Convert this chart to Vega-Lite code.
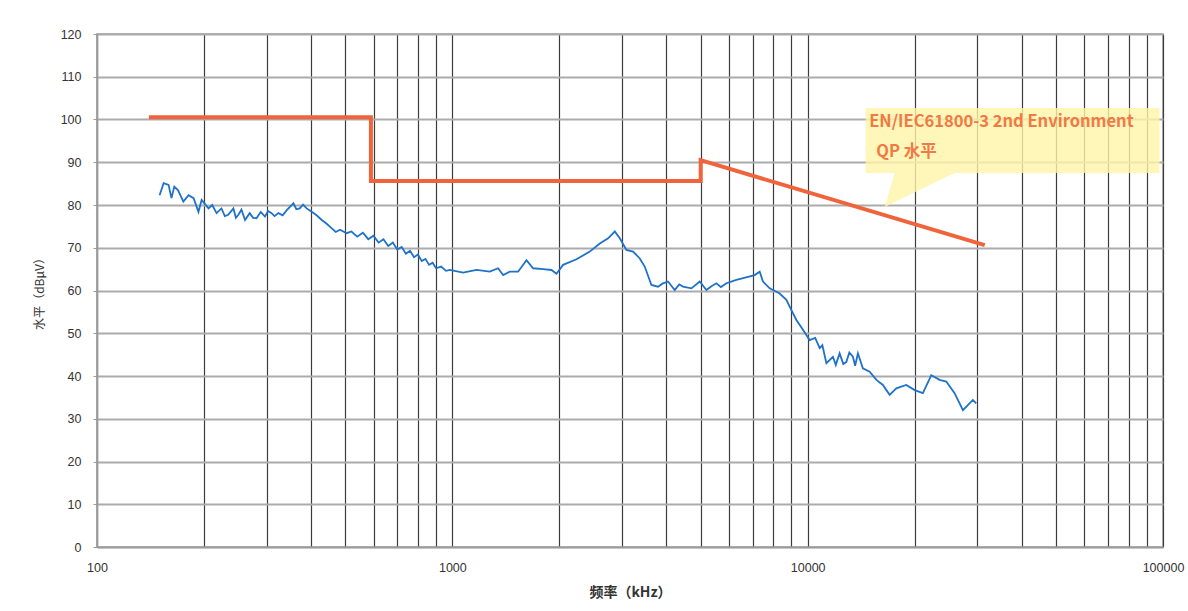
{
  "$schema": "https://vega.github.io/schema/vega-lite/v6.json",
  "width": 1066,
  "height": 513,
  "autosize": "none",
  "padding": {"left": 97, "top": 34, "right": 25, "bottom": 64},
  "background": "white",
  "config": {
    "view": {"stroke": "#9a9a9a", "strokeWidth": 1.5},
    "axis": {"labelFont": "Liberation Sans", "titleFont": "Noto Sans CJK SC"}
  },
  "datasets": {
    "measured": [
      {"f": 150, "v": 82.3}, {"f": 154, "v": 85.1}, {"f": 159, "v": 84.7}, {"f": 162, "v": 81.6},
      {"f": 165, "v": 84.3}, {"f": 169, "v": 83.5}, {"f": 175, "v": 80.8}, {"f": 181, "v": 82.3},
      {"f": 187, "v": 81.6}, {"f": 193, "v": 78.4}, {"f": 197, "v": 81.2}, {"f": 206, "v": 79.2},
      {"f": 211, "v": 80.0}, {"f": 217, "v": 78.1}, {"f": 224, "v": 79.2}, {"f": 229, "v": 77.4},
      {"f": 234, "v": 77.7}, {"f": 242, "v": 79.2}, {"f": 246, "v": 77.0},
      {"f": 250, "v": 77.7}, {"f": 255, "v": 78.9}, {"f": 261, "v": 76.5}, {"f": 269, "v": 78.1}, {"f": 275, "v": 77.0}, {"f": 281, "v": 76.9},
      {"f": 289, "v": 78.4}, {"f": 297, "v": 77.3}, {"f": 303, "v": 78.6}, {"f": 310, "v": 78.1}, {"f": 316, "v": 77.4}, {"f": 324, "v": 78.1}, {"f": 333, "v": 77.6}, {"f": 342, "v": 78.8},
      {"f": 357, "v": 80.4}, {"f": 364, "v": 79.0}, {"f": 372, "v": 79.2}, {"f": 380, "v": 80.1}, {"f": 389, "v": 79.2}, {"f": 402, "v": 78.4},
      {"f": 415, "v": 77.6}, {"f": 429, "v": 76.5}, {"f": 443, "v": 75.6}, {"f": 457, "v": 74.6}, {"f": 470, "v": 73.7}, {"f": 483, "v": 74.2}, {"f": 504, "v": 73.4},
      {"f": 520, "v": 73.8}, {"f": 540, "v": 72.6}, {"f": 560, "v": 73.5}, {"f": 580, "v": 72.0},
      {"f": 600, "v": 72.8}, {"f": 620, "v": 71.2}, {"f": 640, "v": 72.0}, {"f": 660, "v": 70.4},
      {"f": 680, "v": 71.2}, {"f": 700, "v": 69.6}, {"f": 720, "v": 70.2}, {"f": 740, "v": 68.6},
      {"f": 760, "v": 69.3}, {"f": 780, "v": 67.8}, {"f": 800, "v": 68.4}, {"f": 820, "v": 66.9},
      {"f": 840, "v": 67.4}, {"f": 860, "v": 66.0}, {"f": 880, "v": 66.5}, {"f": 900, "v": 65.2},
      {"f": 930, "v": 65.6}, {"f": 960, "v": 64.6}, {"f": 984, "v": 64.8}, {"f": 1072, "v": 64.2},
      {"f": 1170, "v": 64.8}, {"f": 1275, "v": 64.4}, {"f": 1345, "v": 65.2}, {"f": 1390, "v": 63.6},
      {"f": 1451, "v": 64.4}, {"f": 1531, "v": 64.4}, {"f": 1617, "v": 67.1}, {"f": 1688, "v": 65.2},
      {"f": 1801, "v": 65.0}, {"f": 1901, "v": 64.8}, {"f": 1964, "v": 63.9}, {"f": 2050, "v": 66.0},
      {"f": 2236, "v": 67.3}, {"f": 2437, "v": 69.1}, {"f": 2600, "v": 71.0}, {"f": 2744, "v": 72.2},
      {"f": 2866, "v": 73.8}, {"f": 2960, "v": 72.2}, {"f": 3090, "v": 69.5}, {"f": 3226, "v": 69.1},
      {"f": 3369, "v": 67.5}, {"f": 3479, "v": 65.6}, {"f": 3633, "v": 61.3}, {"f": 3792, "v": 60.9},
      {"f": 3900, "v": 61.6}, {"f": 4046, "v": 62.1}, {"f": 4226, "v": 60.1}, {"f": 4350, "v": 61.4}, {"f": 4459, "v": 60.9}, {"f": 4707, "v": 60.5},
      {"f": 4968, "v": 62.1}, {"f": 5188, "v": 60.1}, {"f": 5360, "v": 61.0}, {"f": 5537, "v": 61.7}, {"f": 5700, "v": 60.8}, {"f": 5906, "v": 61.7},
      {"f": 6301, "v": 62.5}, {"f": 6794, "v": 63.2}, {"f": 7094, "v": 63.6}, {"f": 7328, "v": 64.4},
      {"f": 7486, "v": 62.1}, {"f": 7817, "v": 60.5}, {"f": 8341, "v": 59.3}, {"f": 8712, "v": 57.8},
      {"f": 8999, "v": 55.4}, {"f": 9295, "v": 53.1}, {"f": 9700, "v": 50.8}, {"f": 10130, "v": 48.4},
      {"f": 10500, "v": 48.9}, {"f": 10810, "v": 46.5}, {"f": 11000, "v": 47.2}, {"f": 11290, "v": 43.0},
      {"f": 11780, "v": 44.5}, {"f": 12000, "v": 42.6}, {"f": 12300, "v": 45.3}, {"f": 12600, "v": 42.8},
      {"f": 12850, "v": 43.3}, {"f": 13100, "v": 45.5}, {"f": 13410, "v": 44.5}, {"f": 13600, "v": 42.4},
      {"f": 13850, "v": 45.3}, {"f": 14300, "v": 41.8}, {"f": 14940, "v": 41.0}, {"f": 15610, "v": 39.1},
      {"f": 16280, "v": 37.9}, {"f": 17010, "v": 35.6}, {"f": 17760, "v": 37.1}, {"f": 18950, "v": 37.9},
      {"f": 20000, "v": 36.7}, {"f": 21100, "v": 36.0}, {"f": 22280, "v": 40.2}, {"f": 23510, "v": 39.1},
      {"f": 24550, "v": 38.7}, {"f": 25910, "v": 36.0}, {"f": 27350, "v": 32.0}, {"f": 28240, "v": 33.2},
      {"f": 29170, "v": 34.4}, {"f": 29820, "v": 33.6}
    ],
    "limit": [
      {"order": 1, "f": 140, "v": 100.5}, {"order": 2, "f": 590, "v": 100.5},
      {"order": 3, "f": 590, "v": 85.6}, {"order": 4, "f": 5000, "v": 85.6},
      {"order": 5, "f": 5000, "v": 90.5}, {"order": 6, "f": 31500, "v": 70.6}
    ],
    "box": [{"f1": 14560, "f2": 97770, "v1": 102.7, "v2": 87.5}],
    "pointer": [
      {"f": 16470, "top": 79.5, "bottom": 79.5},
      {"f": 17570, "top": 87.5, "bottom": 80.7},
      {"f": 25920, "top": 87.5, "bottom": 87.5}
    ],
    "notes": [
      {"f": 14900, "v": 99.4, "text": "EN/IEC61800-3 2nd Environment"},
      {"f": 15600, "v": 92.4, "text": "QP 水平"}
    ]
  },
  "layer": [
    {
      "data": {"name": "box"},
      "mark": {"type": "rect", "fill": "#fff4a8", "fillOpacity": 0.8},
      "encoding": {
        "x": {"field": "f1", "type": "quantitative", "scale": {"type": "log", "domain": [100, 100000]},
          "axis": {
            "values": [100,200,300,400,500,600,700,800,900,1000,2000,3000,4000,5000,6000,7000,8000,9000,10000,20000,30000,40000,50000,60000,70000,80000,90000,100000],
            "format": "d",
            "labelExpr": "indexof(['100','1000','10000','100000'], datum.label) >= 0 ? datum.label : ''",
            "grid": true, "gridColor": "#3c3c3c", "gridWidth": 1.2,
            "ticks": false, "domainColor": "#9a9a9a", "domainWidth": 1.5,
            "labelFontSize": 12.5, "labelColor": "#333", "labelPadding": 14, "labelFlush": false,
            "title": "频率（kHz）", "titleFontSize": 14, "titleFontWeight": "bold", "titleColor": "#333", "titlePadding": 12
          }},
        "x2": {"field": "f2"},
        "y": {"field": "v1", "type": "quantitative", "scale": {"domain": [0, 120], "nice": false},
          "axis": {
            "values": [0,10,20,30,40,50,60,70,80,90,100,110,120],
            "grid": true, "gridColor": "#ababab", "gridWidth": 2,
            "tickColor": "#9a9a9a", "tickSize": 4, "domainColor": "#9a9a9a", "domainWidth": 1.5,
            "labelFontSize": 12.5, "labelColor": "#333", "labelPadding": 12,
            "title": "水平（dBμV）", "titleFontSize": 12, "titleFontWeight": "normal", "titleColor": "#333", "titlePadding": 14
          }},
        "y2": {"field": "v2"}
      }
    },
    {
      "data": {"name": "pointer"},
      "mark": {"type": "area", "fill": "#fff4a8", "fillOpacity": 0.8},
      "encoding": {
        "x": {"field": "f", "type": "quantitative"},
        "y": {"field": "top", "type": "quantitative"},
        "y2": {"field": "bottom"}
      }
    },
    {
      "data": {"name": "limit"},
      "mark": {"type": "line", "color": "#f0643c", "strokeWidth": 4, "strokeJoin": "miter"},
      "encoding": {
        "x": {"field": "f", "type": "quantitative"},
        "y": {"field": "v", "type": "quantitative"},
        "order": {"field": "order"}
      }
    },
    {
      "data": {"name": "measured"},
      "mark": {"type": "line", "color": "#1f72c9", "strokeWidth": 1.8},
      "encoding": {
        "x": {"field": "f", "type": "quantitative"},
        "y": {"field": "v", "type": "quantitative"}
      }
    },
    {
      "data": {"name": "notes"},
      "mark": {"type": "text", "align": "left", "baseline": "middle", "color": "#f07a45", "fontSize": 16.5, "fontWeight": "bold", "font": "Noto Sans CJK SC"},
      "encoding": {
        "x": {"field": "f", "type": "quantitative"},
        "y": {"field": "v", "type": "quantitative"},
        "text": {"field": "text"}
      }
    }
  ]
}
